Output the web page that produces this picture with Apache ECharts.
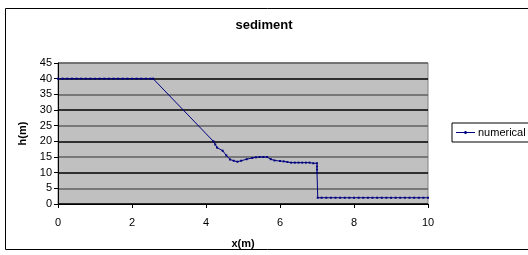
<!DOCTYPE html>
<html>
  <head>
    <meta charset="utf-8">
    <title>sediment</title>
    <style>
      html, body { margin:0; padding:0; background:#fff; }
      #box { width:528px; height:255px; }
    </style>
    <script src="https://cdn.jsdelivr.net/npm/echarts@6/dist/echarts.min.js"></script>
  </head>
  <body>
    <div id="box"></div>
    <script>
    // x positions (m) and heights (m)
    let xs = [0,0.125,0.25,0.375,0.5,0.625,0.75,0.875,1,1.125,1.25,1.375,1.5,1.625,1.75,1.875,2,2.125,2.25,2.375,2.5,2.57,
      4.2,4.25,4.3,4.45,4.55,4.65,4.75,4.85,4.95,5.1,5.25,5.35,5.45,5.55,5.65,5.75,5.85,6.0,6.1,6.2,6.3,6.4,6.5,6.6,6.7,6.8,6.9,
      7.0,7.0,7.0,7.0,7.02,
      7.125,7.25,7.375,7.5,7.625,7.75,7.875,8,8.125,8.25,8.375,8.5,8.625,8.75,8.875,9,9.125,9.25,9.375,9.5,9.625,9.75,9.875,10];
    let hs = [40,40,40,40,40,40,40,40,40,40,40,40,40,40,40,40,40,40,40,40,40,40,
      20,19,18,17,15.5,14.2,13.8,13.5,13.8,14.3,14.7,14.9,15,15,15,14.3,13.9,13.7,13.6,13.4,13.2,13.2,13.2,13.2,13.2,13.2,13,
      13,12,11,10,2,
      2,2,2,2,2,2,2,2,2,2,2,2,2,2,2,2,2,2,2,2,2,2,2,2];
    let yTicks = [0,5,10,15,20,25,30,35,40,45];
    let xTicks = [0,2,4,6,8,10];

    let chart = echarts.init(document.getElementById('box'));
    let font = 'Liberation Sans, Arial, sans-serif';
    chart.setOption({
      animation:false,
      title:{
        text:'sediment', left:'center', top:14,
        textStyle:{fontFamily:font, fontSize:13, fontWeight:'bold', color:'#000'}
      },
      graphic:[
        {type:'rect', shape:{x:5.5, y:8.5, width:530, height:241}, style:{fill:'none', stroke:'#000', lineWidth:1}, z:-10}
      ],
      legend:{
        data:[{name:'numerical', icon:'path://M0,3.5h19v1h-19z M8.5,2.5h2v3h-2z'}],
        left:452, top:123, orient:'vertical',
        borderColor:'#000', borderWidth:1, padding:[4,10,4,4],
        itemWidth:19, itemHeight:8, itemGap:0,
        textStyle:{fontFamily:font, fontSize:11, color:'#000', padding:[0,0,0,-2]}
      },
      grid:{left:58, right:100, top:63, bottom:51, show:true, backgroundColor:'#c0c0c0', borderColor:'#808080', borderWidth:1},
      xAxis:{
        type:'value', min:xTicks[0], max:xTicks[xTicks.length-1], interval:2,
        name:'x(m)', nameLocation:'middle', nameGap:34,
        nameTextStyle:{fontFamily:font, fontSize:11, fontWeight:'bold', color:'#000'},
        axisLine:{onZero:false, lineStyle:{color:'#000'}},
        axisTick:{inside:false, length:4, lineStyle:{color:'#000'}},
        axisLabel:{fontFamily:font, fontSize:11, color:'#000', margin:13},
        splitLine:{show:false}
      },
      yAxis:{
        type:'value', min:yTicks[0], max:yTicks[yTicks.length-1], interval:5,
        name:'h(m)', nameLocation:'middle', nameGap:27, nameRotate:90,
        nameTextStyle:{fontFamily:font, fontSize:11, fontWeight:'bold', color:'#000'},
        axisLine:{lineStyle:{color:'#000'}},
        axisTick:{length:4, lineStyle:{color:'#000'}},
        axisLabel:{fontFamily:font, fontSize:11, color:'#000', margin:6},
        splitLine:{show:true, lineStyle:{color:['#000','#606060'], width:1.5}}
      },
      series:[{
        name:'numerical', type:'line',
        data:xs.map((x,i)=>[x,hs[i]]),
        symbol:'rect', symbolSize:2, showSymbol:true,
        lineStyle:{color:'#000080', width:1},
        itemStyle:{color:'#000080'}
      }]
    });
    </script>
  </body>
</html>
